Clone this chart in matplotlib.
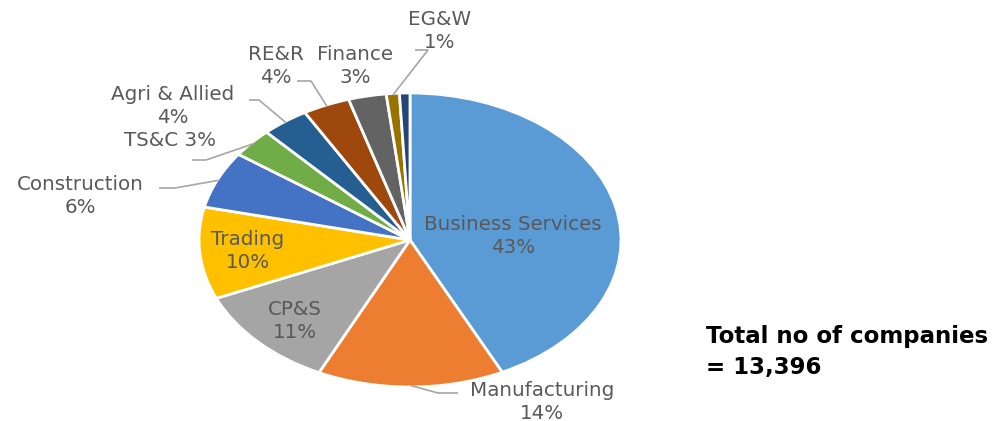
import matplotlib
matplotlib.use("Agg")
import matplotlib.pyplot as plt
import numpy as np

# ---- data ----
categories = ["Business Services", "Manufacturing", "CP&S", "Trading", "Construction",
              "TS&C", "Agri & Allied", "RE&R", "Finance", "EG&W", "Others"]
shares = [42.8, 14.3, 11.4, 10.1, 6.3, 3.2, 3.6, 3.6, 2.9, 1.0, 0.8]
colors = ["#5B9BD5", "#ED7D31", "#A5A5A5", "#FFC000", "#4472C4",
          "#70AD47", "#255E91", "#9E480E", "#636363", "#997300", "#264478"]
total_text = "Total no of companies\n= 13,396"

plt.rcParams['font.family'] = ['DejaVu Sans']

W, H = 1008, 421
fig = plt.figure(figsize=(W / 100, H / 100), dpi=100)
ax = fig.add_axes([0, 0, 1, 1])

CX, CY, RX, RY = 410, 240, 211, 147


def P(px, py):
    return (px - CX) / RX, (CY - py) / RY


wedges, _ = ax.pie(shares, colors=colors, startangle=90, counterclock=False,
                   wedgeprops=dict(edgecolor="white", linewidth=2), radius=1.0)
ax.set_aspect('auto')
x0, _ = P(0, 0)
x1, _ = P(W, 0)
_, y0 = P(0, H)
_, y1 = P(0, 0)
ax.set_xlim(x0, x1)
ax.set_ylim(y0, y1)
ax.axis('off')

lab_color = "#595959"
fs = 14.3

layout = {
    "Business Services": dict(pos=(513, 236), inside=True),
    "Manufacturing": dict(pos=(542, 402), lead=((438, 393), (458, 393))),
    "CP&S": dict(pos=(295, 321), inside=True),
    "Trading": dict(pos=(248, 251), inside=True),
    "Construction": dict(pos=(80, 196), lead=((175, 188), (159, 188))),
    "TS&C": dict(pos=(170, 140), single=True, lead=((206, 160), (192, 160))),
    "Agri & Allied": dict(pos=(173, 106), lead=((259, 100), (249, 100))),
    "RE&R": dict(pos=(276, 66), lead=((311, 81), (297, 81))),
    "Finance": dict(pos=(355, 66)),
    "EG&W": dict(pos=(440, 31), lead=((428, 50), (415, 50))),
}

for w, cat, val in zip(wedges, categories, shares):
    if cat not in layout:
        continue
    L = layout[cat]
    pct = f"{round(val):d}%"
    txt = f"{cat} {pct}" if L.get("single") else f"{cat}\n{pct}"
    tx, ty = P(*L["pos"])
    ax.text(tx, ty, txt, ha="center", va="center", fontsize=fs, color=lab_color,
            linespacing=1.22)
    if "lead" in L:
        mid = np.deg2rad((w.theta1 + w.theta2) / 2)
        sx, sy = np.cos(mid) * 0.99, np.sin(mid) * 0.99
        ex, ey = P(*L["lead"][0])
        fx, fy = P(*L["lead"][1])
        ax.plot([sx, ex, fx], [sy, ey, fy], color="#A6A6A6", lw=1.2,
                solid_capstyle="butt")

fig.text(706 / W, 1 - 352 / H, total_text, ha="left", va="center",
         fontsize=16.5, fontweight="bold", color="black", linespacing=1.4)

fig.savefig("out.png", dpi=100)
